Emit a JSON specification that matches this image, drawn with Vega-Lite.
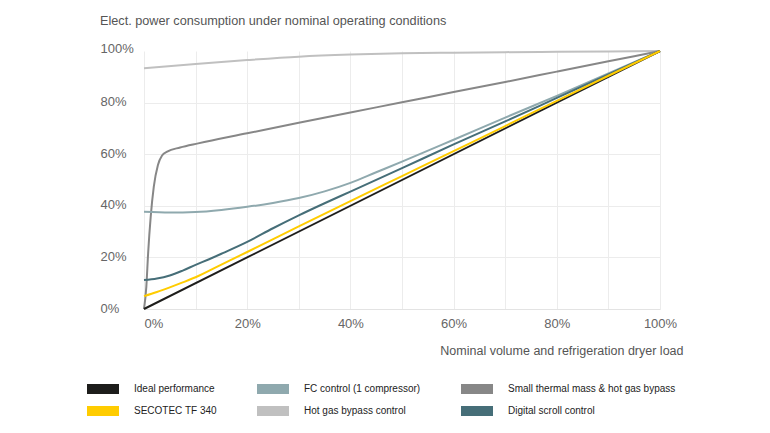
{
  "$schema": "https://vega.github.io/schema/vega-lite/v6.json",
  "width": 516,
  "height": 258,
  "autosize": {"type": "none"},
  "padding": {"left": 144, "top": 51, "right": 110, "bottom": 124},
  "background": "white",
  "title": {
    "text": "Elect. power consumption under nominal operating conditions",
    "anchor": "start",
    "frame": "group",
    "dx": -44,
    "font": "Liberation Sans",
    "fontSize": 12.7,
    "fontWeight": "normal",
    "color": "#555555",
    "offset": 14
  },
  "config": {
    "view": {"stroke": null},
    "font": "Liberation Sans"
  },
  "data": {
    "values": [
      {"x": 0, "y": 93.3, "s": "Hot gas bypass control"},
      {"x": 10, "y": 95, "s": "Hot gas bypass control"},
      {"x": 20, "y": 96.5, "s": "Hot gas bypass control"},
      {"x": 30, "y": 97.8, "s": "Hot gas bypass control"},
      {"x": 40, "y": 98.6, "s": "Hot gas bypass control"},
      {"x": 50, "y": 99.1, "s": "Hot gas bypass control"},
      {"x": 60, "y": 99.35, "s": "Hot gas bypass control"},
      {"x": 70, "y": 99.55, "s": "Hot gas bypass control"},
      {"x": 80, "y": 99.7, "s": "Hot gas bypass control"},
      {"x": 90, "y": 99.85, "s": "Hot gas bypass control"},
      {"x": 100, "y": 100, "s": "Hot gas bypass control"},

      {"x": 0, "y": 0, "s": "Small thermal mass & hot gas bypass"},
      {"x": 0.45, "y": 8.6, "s": "Small thermal mass & hot gas bypass"},
      {"x": 0.8, "y": 21.6, "s": "Small thermal mass & hot gas bypass"},
      {"x": 1.3, "y": 35.8, "s": "Small thermal mass & hot gas bypass"},
      {"x": 1.9, "y": 47.4, "s": "Small thermal mass & hot gas bypass"},
      {"x": 2.7, "y": 55.8, "s": "Small thermal mass & hot gas bypass"},
      {"x": 3.5, "y": 59.5, "s": "Small thermal mass & hot gas bypass"},
      {"x": 4.5, "y": 61, "s": "Small thermal mass & hot gas bypass"},
      {"x": 7, "y": 62.6, "s": "Small thermal mass & hot gas bypass"},
      {"x": 10.5, "y": 64.2, "s": "Small thermal mass & hot gas bypass"},
      {"x": 20, "y": 68.1, "s": "Small thermal mass & hot gas bypass"},
      {"x": 30, "y": 72.2, "s": "Small thermal mass & hot gas bypass"},
      {"x": 40, "y": 76.2, "s": "Small thermal mass & hot gas bypass"},
      {"x": 50, "y": 80.1, "s": "Small thermal mass & hot gas bypass"},
      {"x": 60, "y": 84.1, "s": "Small thermal mass & hot gas bypass"},
      {"x": 70, "y": 88, "s": "Small thermal mass & hot gas bypass"},
      {"x": 80, "y": 92, "s": "Small thermal mass & hot gas bypass"},
      {"x": 90, "y": 96, "s": "Small thermal mass & hot gas bypass"},
      {"x": 100, "y": 100, "s": "Small thermal mass & hot gas bypass"},

      {"x": 0, "y": 37.7, "s": "FC control (1 compressor)"},
      {"x": 5, "y": 37.4, "s": "FC control (1 compressor)"},
      {"x": 10, "y": 37.6, "s": "FC control (1 compressor)"},
      {"x": 15, "y": 38.4, "s": "FC control (1 compressor)"},
      {"x": 20, "y": 39.6, "s": "FC control (1 compressor)"},
      {"x": 25, "y": 41.1, "s": "FC control (1 compressor)"},
      {"x": 30, "y": 43, "s": "FC control (1 compressor)"},
      {"x": 35, "y": 45.6, "s": "FC control (1 compressor)"},
      {"x": 40, "y": 48.9, "s": "FC control (1 compressor)"},
      {"x": 45, "y": 53, "s": "FC control (1 compressor)"},
      {"x": 50, "y": 57.1, "s": "FC control (1 compressor)"},
      {"x": 60, "y": 65.6, "s": "FC control (1 compressor)"},
      {"x": 70, "y": 74.2, "s": "FC control (1 compressor)"},
      {"x": 80, "y": 82.6, "s": "FC control (1 compressor)"},
      {"x": 90, "y": 91.3, "s": "FC control (1 compressor)"},
      {"x": 100, "y": 100, "s": "FC control (1 compressor)"},

      {"x": 0, "y": 11.2, "s": "Digital scroll control"},
      {"x": 2.5, "y": 11.8, "s": "Digital scroll control"},
      {"x": 5, "y": 13, "s": "Digital scroll control"},
      {"x": 7.5, "y": 14.9, "s": "Digital scroll control"},
      {"x": 10, "y": 17.1, "s": "Digital scroll control"},
      {"x": 12.5, "y": 19.2, "s": "Digital scroll control"},
      {"x": 15, "y": 21.4, "s": "Digital scroll control"},
      {"x": 20, "y": 26, "s": "Digital scroll control"},
      {"x": 25, "y": 31.3, "s": "Digital scroll control"},
      {"x": 30, "y": 36.3, "s": "Digital scroll control"},
      {"x": 35, "y": 41, "s": "Digital scroll control"},
      {"x": 40, "y": 45.5, "s": "Digital scroll control"},
      {"x": 50, "y": 54.6, "s": "Digital scroll control"},
      {"x": 60, "y": 63.8, "s": "Digital scroll control"},
      {"x": 70, "y": 72.7, "s": "Digital scroll control"},
      {"x": 80, "y": 81.8, "s": "Digital scroll control"},
      {"x": 90, "y": 90.9, "s": "Digital scroll control"},
      {"x": 100, "y": 100, "s": "Digital scroll control"},

      {"x": 0, "y": 0, "s": "Ideal performance"},
      {"x": 100, "y": 100, "s": "Ideal performance"},

      {"x": 0, "y": 5, "s": "SECOTEC TF 340"},
      {"x": 2.5, "y": 6.6, "s": "SECOTEC TF 340"},
      {"x": 5, "y": 8.4, "s": "SECOTEC TF 340"},
      {"x": 7.5, "y": 10.3, "s": "SECOTEC TF 340"},
      {"x": 10, "y": 12.3, "s": "SECOTEC TF 340"},
      {"x": 15, "y": 17.2, "s": "SECOTEC TF 340"},
      {"x": 20, "y": 22.1, "s": "SECOTEC TF 340"},
      {"x": 30, "y": 32, "s": "SECOTEC TF 340"},
      {"x": 40, "y": 41.8, "s": "SECOTEC TF 340"},
      {"x": 50, "y": 51.5, "s": "SECOTEC TF 340"},
      {"x": 60, "y": 61.2, "s": "SECOTEC TF 340"},
      {"x": 70, "y": 70.9, "s": "SECOTEC TF 340"},
      {"x": 80, "y": 80.7, "s": "SECOTEC TF 340"},
      {"x": 90, "y": 90.4, "s": "SECOTEC TF 340"},
      {"x": 100, "y": 100, "s": "SECOTEC TF 340"}
    ]
  },
  "mark": {"type": "line", "strokeWidth": 2, "interpolate": "monotone", "clip": false},
  "encoding": {
    "x": {
      "field": "x",
      "type": "quantitative",
      "scale": {"domain": [0, 100], "nice": false},
      "axis": {
        "values": [0, 10, 20, 30, 40, 50, 60, 70, 80, 90, 100],
        "labelExpr": "datum.value % 20 == 0 ? datum.value + '%' : ''",
        "labelAlign": {"condition": {"test": "datum.value == 0", "value": "left"}, "value": "center"},
        "labelFont": "Liberation Sans",
        "labelFontSize": 13,
        "labelColor": "#666666",
        "labelPadding": 8,
        "labelBaseline": "top",
        "ticks": false,
        "tickSize": 0,
        "domain": true,
        "domainColor": "#e3e3e3",
        "domainWidth": 1,
        "grid": true,
        "gridColor": "#ececec",
        "gridWidth": 1,
        "title": "Nominal volume and refrigeration dryer load",
        "titleFont": "Liberation Sans",
        "titleFontSize": 12.5,
        "titleFontWeight": "normal",
        "titleColor": "#555555",
        "titleAlign": "right",
        "titleAnchor": "end",
        "titleX": 539,
        "titleY": 41,
        "titleBaseline": "middle"
      }
    },
    "y": {
      "field": "y",
      "type": "quantitative",
      "scale": {"domain": [0, 100], "nice": false},
      "axis": {
        "values": [0, 20, 40, 60, 80, 100],
        "labelExpr": "datum.value + '%'",
        "labelAlign": "left",
        "labelBaseline": "middle",
        "labelFont": "Liberation Sans",
        "labelFontSize": 13,
        "labelColor": "#666666",
        "labelPadding": 44,
        "labelOffset": {"condition": {"test": "datum.value == 100", "value": -3}, "value": -1},
        "ticks": false,
        "tickSize": 0,
        "domain": false,
        "grid": true,
        "gridColor": {"condition": {"test": "datum.value == 100 || datum.value == 0", "value": "transparent"}, "value": "#ececec"},
        "title": null
      }
    },
    "color": {
      "field": "s",
      "type": "nominal",
      "scale": {
        "domain": ["Ideal performance", "FC control (1 compressor)", "Small thermal mass & hot gas bypass", "SECOTEC TF 340", "Hot gas bypass control", "Digital scroll control"],
        "range": ["#1d1d1b", "#8fa9ae", "#878787", "#ffcc00", "#c0c0c0", "#466e78"]
      },
      "legend": {
        "title": null,
        "orient": "none",
        "legendX": -57,
        "legendY": 330,
        "padding": 0,
        "direction": "horizontal",
        "columns": 3,
        "gridAlign": "each",
        "columnPadding": 40,
        "rowPadding": 9,
        "symbolType": "M-1,-0.625H3V0.625H-1Z",
        "symbolSize": 256,
        "symbolStrokeWidth": 0,
        "labelFont": "Liberation Sans",
        "labelFontSize": 10,
        "labelColor": "#222222",
        "labelOffset": 31,
        "labelLimit": 300,
        "encode": {
          "symbols": {"update": {
            "fill": {"scale": "color", "field": "value"},
            "stroke": {"value": "transparent"},
            "strokeWidth": {"value": 0}
          }}
        }
      }
    }
  }
}
